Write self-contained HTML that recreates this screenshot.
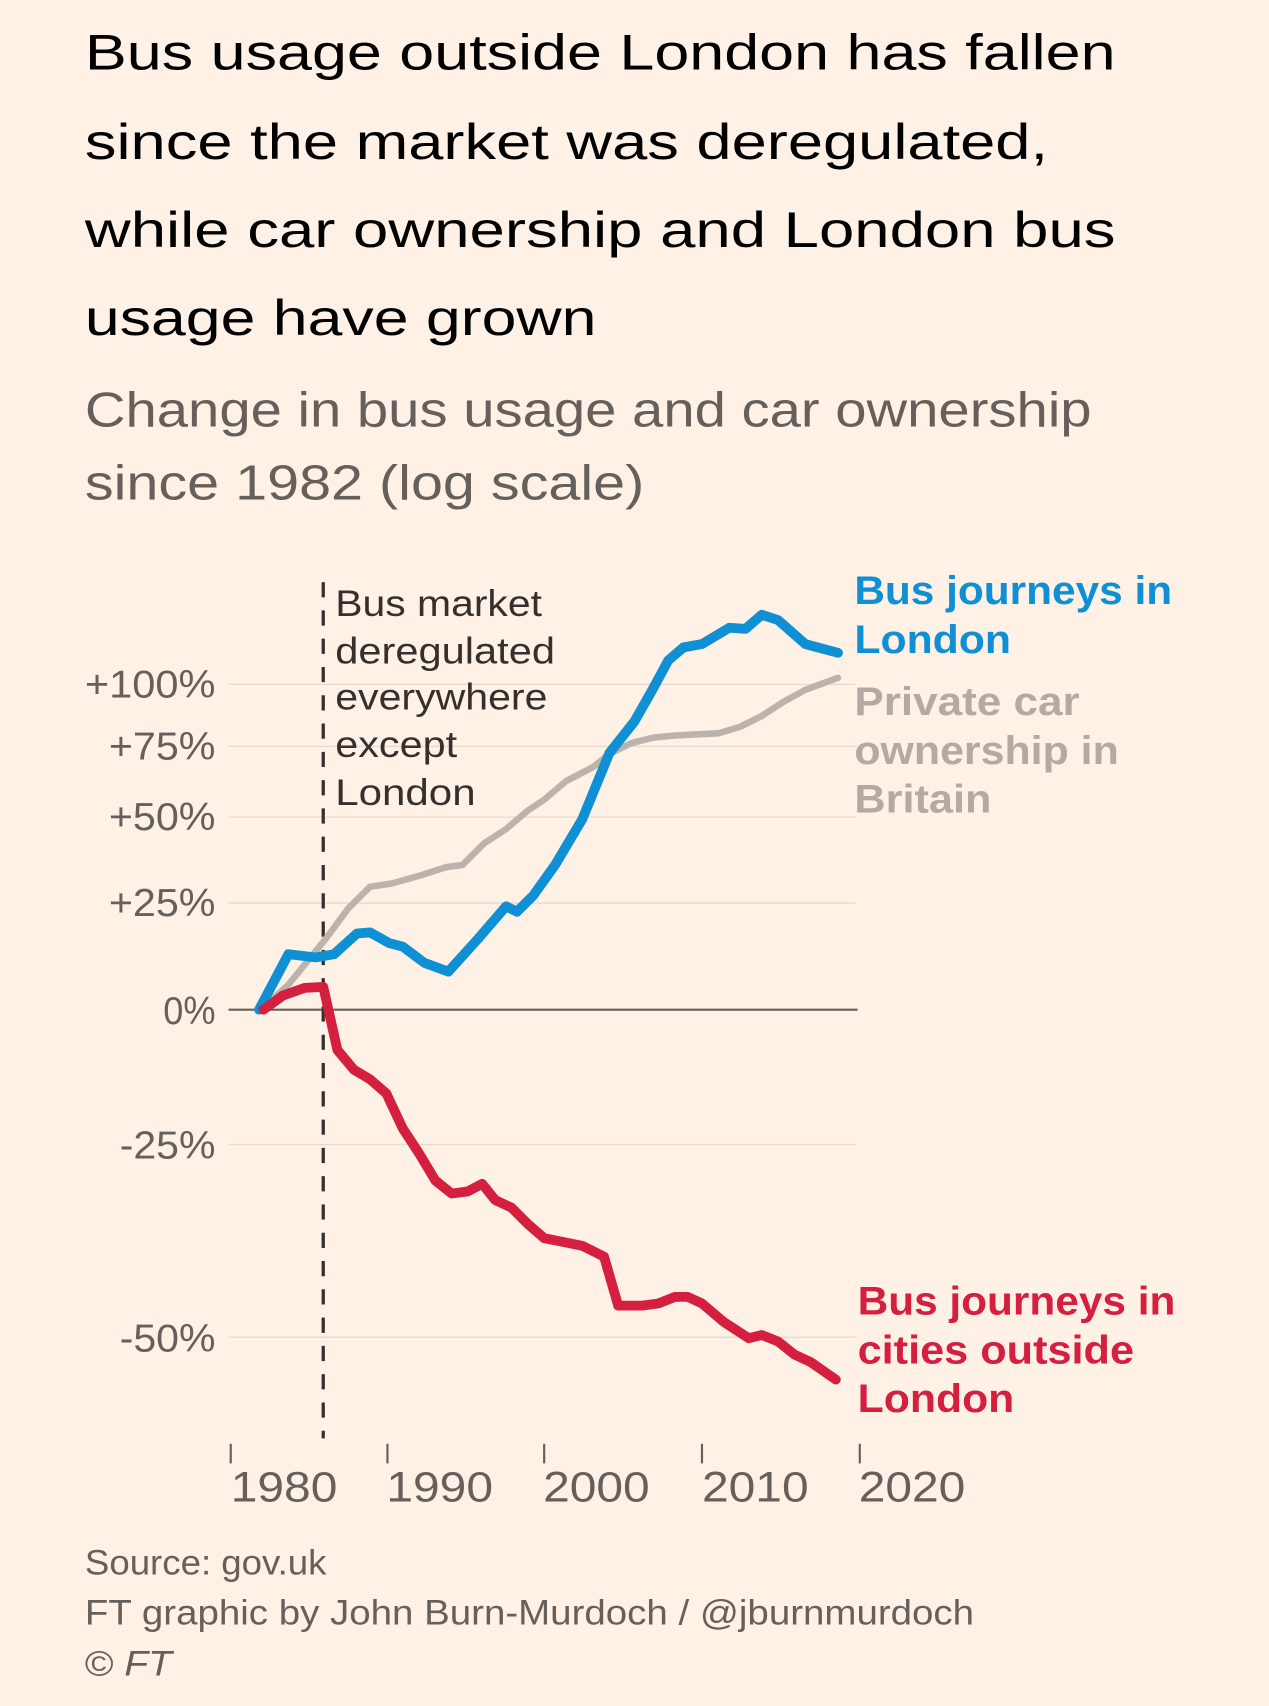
<!DOCTYPE html>
<html><head><style>
html,body{margin:0;padding:0;background:#fff1e5;}
svg{display:block;}
text{font-family:"Liberation Sans",sans-serif;}
</style></head><body>
<svg width="1269" height="1706" viewBox="0 0 1166 1568" preserveAspectRatio="none" xmlns="http://www.w3.org/2000/svg">
<rect width="1166" height="1568" fill="#fff1e5"/>
<g font-size="46" fill="#000" lengthAdjust="spacingAndGlyphs">
<text x="78" y="64" textLength="947" lengthAdjust="spacingAndGlyphs">Bus usage outside London has fallen</text>
<text x="78" y="146" textLength="885" lengthAdjust="spacingAndGlyphs">since the market was deregulated,</text>
<text x="78" y="227" textLength="947" lengthAdjust="spacingAndGlyphs">while car ownership and London bus</text>
<text x="78" y="308" textLength="470" lengthAdjust="spacingAndGlyphs">usage have grown</text>
</g>
<g font-size="45" fill="#66605c">
<text x="78" y="392" textLength="925" lengthAdjust="spacingAndGlyphs">Change in bus usage and car ownership</text>
<text x="78" y="459" textLength="514" lengthAdjust="spacingAndGlyphs">since 1982 (log scale)</text>
</g>
<g stroke="#e6d9ce" stroke-width="1.2">
<line x1="210" x2="786" y1="629" y2="629"/><line x1="210" x2="786" y1="686" y2="686"/>
<line x1="210" x2="786" y1="751" y2="751"/><line x1="210" x2="786" y1="830" y2="830"/>
<line x1="210" x2="786" y1="1052" y2="1052"/><line x1="210" x2="786" y1="1229" y2="1229"/>
</g>
<line x1="210" x2="788" y1="928" y2="928" stroke="#66605c" stroke-width="2"/>
<g font-size="36" fill="#66605c">
<text x="78" y="641" textLength="120" lengthAdjust="spacingAndGlyphs">+100%</text>
<text x="100" y="698" textLength="98" lengthAdjust="spacingAndGlyphs">+75%</text>
<text x="100" y="763" textLength="98" lengthAdjust="spacingAndGlyphs">+50%</text>
<text x="100" y="842" textLength="98" lengthAdjust="spacingAndGlyphs">+25%</text>
<text x="150" y="941" textLength="48" lengthAdjust="spacingAndGlyphs">0%</text>
<text x="110" y="1065" textLength="88" lengthAdjust="spacingAndGlyphs">-25%</text>
<text x="110" y="1242" textLength="88" lengthAdjust="spacingAndGlyphs">-50%</text>
</g>
<g stroke="#66605c" stroke-width="2">
<line x1="212" x2="212" y1="1327" y2="1345"/><line x1="356" x2="356" y1="1327" y2="1345"/>
<line x1="500" x2="500" y1="1327" y2="1345"/><line x1="645" x2="645" y1="1327" y2="1345"/>
<line x1="790" x2="790" y1="1327" y2="1345"/>
</g>
<g font-size="39" fill="#66605c">
<text x="212" y="1380" textLength="98" lengthAdjust="spacingAndGlyphs">1980</text>
<text x="355" y="1380" textLength="98" lengthAdjust="spacingAndGlyphs">1990</text>
<text x="499" y="1380" textLength="98" lengthAdjust="spacingAndGlyphs">2000</text>
<text x="645" y="1380" textLength="98" lengthAdjust="spacingAndGlyphs">2010</text>
<text x="789" y="1380" textLength="98" lengthAdjust="spacingAndGlyphs">2020</text>
</g>
<line x1="297" x2="297" y1="535" y2="1322" stroke="#33302e" stroke-width="3" stroke-dasharray="14,12"/>
<g font-size="34" fill="#33302e">
<text x="308" y="566" textLength="190" lengthAdjust="spacingAndGlyphs">Bus market</text>
<text x="308" y="610" textLength="202" lengthAdjust="spacingAndGlyphs">deregulated</text>
<text x="308" y="652" textLength="195" lengthAdjust="spacingAndGlyphs">everywhere</text>
<text x="308" y="696" textLength="112" lengthAdjust="spacingAndGlyphs">except</text>
<text x="308" y="740" textLength="129" lengthAdjust="spacingAndGlyphs">London</text>
</g>
<g fill="none" stroke-width="8" stroke-linejoin="round" stroke-linecap="round">
<polyline stroke="#bcb3ad" stroke-width="6" points="240,928 265,905 300,862 320,835 340,815 360,812 385,805 410,797 425,795 445,775 465,762 485,745 500,735 520,718 545,705 560,693 580,683 600,678 620,676 640,675 660,674 680,668 700,658 720,645 740,634 770,623"/>
<polyline stroke="#0f8fd4" stroke-width="9" points="238,928 265,877 290,880 307,877 328,858 340,857 358,867 370,870 390,885 412,893 440,862 465,833 475,838 490,823 510,795 535,753 560,692 583,663 600,633 614,607 628,595 645,592 670,577 685,578 700,565 715,570 740,592 770,600"/>
<polyline stroke="#d41f3f" stroke-width="9" points="242,928 260,915 280,908 297,907 310,965 325,983 340,992 355,1005 370,1037 385,1060 400,1085 415,1097 430,1095 443,1088 455,1103 470,1110 485,1125 500,1138 520,1142 535,1145 555,1155 568,1200 590,1200 605,1198 620,1192 632,1192 645,1198 665,1215 688,1230 700,1227 715,1233 730,1245 745,1252 768,1268"/>
</g>
<g font-size="37" font-weight="bold">
<text x="785" y="555" fill="#0f8fd4" textLength="292" lengthAdjust="spacingAndGlyphs">Bus journeys in</text>
<text x="785" y="600" fill="#0f8fd4" textLength="144" lengthAdjust="spacingAndGlyphs">London</text>
<text x="785" y="657" fill="#b3aaa4" textLength="207" lengthAdjust="spacingAndGlyphs">Private car</text>
<text x="785" y="702" fill="#b3aaa4" textLength="243" lengthAdjust="spacingAndGlyphs">ownership in</text>
<text x="785" y="747" fill="#b3aaa4" textLength="126" lengthAdjust="spacingAndGlyphs">Britain</text>
<text x="788" y="1208" fill="#d41f3f" textLength="292" lengthAdjust="spacingAndGlyphs">Bus journeys in</text>
<text x="788" y="1253" fill="#d41f3f" textLength="254" lengthAdjust="spacingAndGlyphs">cities outside</text>
<text x="788" y="1298" fill="#d41f3f" textLength="144" lengthAdjust="spacingAndGlyphs">London</text>
</g>
<g font-size="32" fill="#66605c">
<text x="78" y="1447" textLength="222" lengthAdjust="spacingAndGlyphs">Source: gov.uk</text>
<text x="78" y="1493" textLength="817" lengthAdjust="spacingAndGlyphs">FT graphic by John Burn-Murdoch / @jburnmurdoch</text>
<text x="78" y="1540" textLength="80" lengthAdjust="spacingAndGlyphs">© <tspan font-style="italic">FT</tspan></text>
</g>
</svg>
</body></html>
